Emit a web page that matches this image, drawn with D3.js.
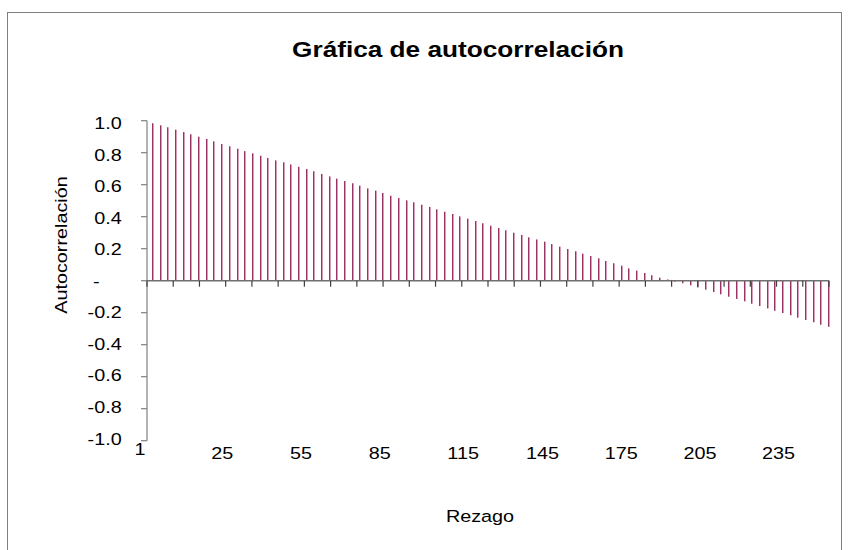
<!DOCTYPE html>
<html>
<head>
<meta charset="utf-8">
<script src="https://cdn.jsdelivr.net/npm/d3@7"></script>
<style>
    body { margin: 0; background: #fff; }
    text { font-family: "Liberation Sans", Arial, sans-serif; fill: #000; }
</style>
</head>
<body>
<svg id="chart" width="849" height="550"></svg>
<script>
// Autocorrelation per visible bar.
const acf = [
    0.984, 0.971, 0.959, 0.944, 0.929, 0.915, 0.900, 0.886, 0.871, 0.854,
    0.840, 0.825, 0.810, 0.796, 0.781, 0.767, 0.752, 0.740, 0.727, 0.712,
    0.698, 0.684, 0.667, 0.652, 0.638, 0.623, 0.609, 0.594, 0.577, 0.563,
    0.548, 0.531, 0.517, 0.502, 0.490, 0.475, 0.461, 0.446, 0.431, 0.417,
    0.402, 0.388, 0.373, 0.359, 0.344, 0.329, 0.315, 0.300, 0.286, 0.271,
    0.258, 0.244, 0.229, 0.213, 0.198, 0.184, 0.169, 0.154, 0.140, 0.123,
    0.109, 0.094, 0.077, 0.063, 0.048, 0.034, 0.019, 0.008, -0.006, -0.016,
    -0.029, -0.042, -0.056, -0.071, -0.085, -0.100, -0.114, -0.129, -0.144, -0.158,
    -0.173, -0.188, -0.202, -0.216, -0.231, -0.246, -0.260, -0.275, -0.288
];
const lagLabels = [1, 25, 55, 85, 115, 145, 175, 205, 235];
const yTicks = [1.0, 0.8, 0.6, 0.4, 0.2, 0, -0.2, -0.4, -0.6, -0.8, -1.0];
const maxLag = 260;

const STRETCH = 1.165; // the original font is wider than Arial
let svg = d3.select('#chart');

let stretchedText = (x, y, str, opts = {}) => {
    let g = svg.append('g')
        .attr('transform', `translate(${x},${y})` + (opts.rotate ? ` rotate(${opts.rotate})` : '') + ` scale(${STRETCH},1)`);
    return g.append('text')
        .attr('text-anchor', opts.anchor || 'start')
        .style('font-size', (opts.size || 17) + 'px')
        .style('font-weight', opts.weight || 'normal')
        .text(str);
};

// Bar fill: dark edge on the left, pink on the right, like the original.
let grad = svg.append('defs').append('linearGradient')
    .attr('id', 'barFill')
    .attr('x1', '0').attr('x2', '1').attr('y1', '0').attr('y2', '0');
grad.append('stop').attr('offset', '0').attr('stop-color', '#993366');
grad.append('stop').attr('offset', '0.5').attr('stop-color', '#993366');
grad.append('stop').attr('offset', '0.5').attr('stop-color', '#d69cba');
grad.append('stop').attr('offset', '1').attr('stop-color', '#d69cba');

// Outer frame.
svg.append('rect')
    .attr('x', 7.5).attr('y', 12.5)
    .attr('width', 834).attr('height', 560)
    .attr('fill', 'none')
    .attr('stroke', '#808080');

let x0 = 147, x1 = 829;
let xLag = d3.scaleLinear().domain([0, maxLag]).range([x0, x1]);
let xBar = d3.scalePoint().domain(d3.range(acf.length)).range([152, 828]);
let y = d3.scaleLinear().domain([-1, 1]).range([440.7, 120.7]);
let yLabel = d3.scaleLinear().domain([-1, 1]).range([438.5, 123.3]);

// Bars.
svg.append('g')
    .selectAll('rect')
    .data(acf)
  .enter().append('rect')
    .attr('x', (d, i) => Math.round(xBar(i)))
    .attr('width', 2)
    .attr('y', d => y(Math.max(d, 0)))
    .attr('height', d => Math.abs(y(d) - y(0)))
    .attr('fill', 'url(#barFill)');

// Y axis.
svg.append('line')
    .attr('x1', x0).attr('x2', x0)
    .attr('y1', y(1)).attr('y2', y(-1))
    .attr('stroke', '#808080').attr('stroke-width', 1.2);
svg.append('g')
    .selectAll('line')
    .data(yTicks)
  .enter().append('line')
    .attr('x1', x0 - 6).attr('x2', x0)
    .attr('y1', d => y(d)).attr('y2', d => y(d))
    .attr('stroke', '#808080').attr('stroke-width', 1.2);
yTicks.forEach(v => {
    if (v === 0) {
        stretchedText(93, yLabel(v) + 6, '-');
    } else {
        stretchedText(121.7, yLabel(v) + 6, v.toFixed(1), {anchor: 'end'});
    }
});

// X axis.
svg.append('line')
    .attr('x1', x0).attr('x2', x1)
    .attr('y1', y(0)).attr('y2', y(0))
    .attr('stroke', '#707070').attr('stroke-width', 1.5);
svg.append('g')
    .selectAll('line')
    .data(d3.range(0, maxLag + 1, 10))
  .enter().append('line')
    .attr('x1', d => xLag(d)).attr('x2', d => xLag(d))
    .attr('y1', y(0)).attr('y2', y(0) + 6)
    .attr('stroke', '#404040').attr('stroke-width', 1.2);
lagLabels.forEach((v, i) => {
    let lx = i === 0 ? xLag(v) - 15 : xLag(v - 0.5);
    stretchedText(lx, i === 0 ? 455 : 458.5, String(v));
});

// Titles.
stretchedText(458, 57, 'Gráfica de autocorrelación', {anchor: 'middle', size: 22.5, weight: 'bold'});
stretchedText(480, 522, 'Rezago', {anchor: 'middle'});
stretchedText(67, 245, 'Autocorrelación', {anchor: 'middle', rotate: -90});
</script>
</body>
</html>
